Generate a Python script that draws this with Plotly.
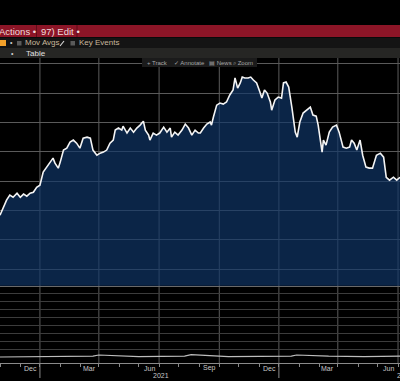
import plotly.graph_objects as go

# ---------------- data ----------------
dates = ["2020-10-01","2020-10-06","2020-10-11","2020-10-16","2020-10-21","2020-10-27","2020-11-01","2020-11-06","2020-11-11","2020-11-16",
         "2020-11-21","2020-11-26","2020-12-01","2020-12-06","2020-12-11","2020-12-16","2020-12-21","2020-12-24","2020-12-29","2021-01-01",
         "2021-01-06","2021-01-11","2021-01-16","2021-01-21","2021-01-26","2021-01-31","2021-02-05","2021-02-11","2021-02-16","2021-02-20",
         "2021-02-26","2021-03-03","2021-03-08","2021-03-13","2021-03-18","2021-03-23","2021-03-26","2021-03-31","2021-04-05","2021-04-07",
         "2021-04-13","2021-04-18","2021-04-23","2021-04-28","2021-05-03","2021-05-08","2021-05-11","2021-05-16","2021-05-18","2021-05-23",
         "2021-05-28","2021-06-02","2021-06-08","2021-06-13","2021-06-18","2021-06-20","2021-06-25","2021-06-30","2021-07-06","2021-07-11",
         "2021-07-16","2021-07-21","2021-07-26","2021-07-31","2021-08-03","2021-08-08","2021-08-13","2021-08-18","2021-08-20","2021-08-23",
         "2021-08-26","2021-08-28","2021-09-02","2021-09-07","2021-09-12","2021-09-17","2021-09-22","2021-09-25","2021-09-29","2021-10-03",
         "2021-10-06","2021-10-10","2021-10-15","2021-10-19","2021-10-23","2021-10-28","2021-11-02","2021-11-05","2021-11-09","2021-11-13",
         "2021-11-18","2021-11-20","2021-11-25","2021-11-30","2021-12-05","2021-12-08","2021-12-12","2021-12-16","2021-12-21","2021-12-26",
         "2021-12-29","2022-01-02","2022-01-07","2022-01-13","2022-01-18","2022-01-22","2022-01-27","2022-01-30","2022-02-05","2022-02-07",
         "2022-02-11","2022-02-16","2022-02-21","2022-02-27","2022-03-03","2022-03-09","2022-03-14","2022-03-19","2022-03-22","2022-03-26",
         "2022-03-30","2022-04-04","2022-04-08","2022-04-13","2022-04-18","2022-04-23","2022-04-29","2022-05-05","2022-05-10","2022-05-14",
         "2022-05-19","2022-05-25","2022-05-30","2022-06-04"]

prices = [136.8,141.6,147.1,150.5,149.1,151.8,149.1,151.2,149.8,151.8,
          152.5,155.9,157.3,166.2,169.6,173.0,175.7,172.3,168.9,173.0,
          181.2,182.5,186.6,188.0,185.9,182.5,189.3,190.0,189.3,181.2,
          177.7,179.1,179.8,181.2,185.9,188.0,194.8,196.2,194.8,197.5,
          192.8,196.2,193.4,196.2,198.2,200.9,194.8,191.4,188.0,192.8,
          191.4,192.8,196.8,193.4,196.2,190.0,193.4,191.4,194.8,198.9,
          196.2,191.4,194.8,192.8,192.8,196.2,198.9,200.3,198.2,203.7,
          209.8,211.8,213.2,212.5,213.9,218.7,222.1,230.3,223.4,226.9,
          230.9,230.3,230.3,230.9,228.9,226.9,220.7,216.6,222.1,220.0,
          213.9,208.4,215.3,217.3,216.6,226.9,227.5,224.1,209.8,193.4,
          190.0,200.3,206.4,208.4,210.5,205.0,204.3,198.2,179.8,188.0,
          184.6,193.4,196.8,198.2,193.4,183.2,182.5,183.2,188.0,185.9,
          181.2,188.0,177.7,169.6,168.9,168.9,177.7,179.1,176.4,162.7,
          160.7,162.7,160.7,162.7]

assert len(dates) == len(prices)

# lower study panel (nearly flat line)
lower_dates = ["2020-10-01","2020-12-15","2021-02-20","2021-03-01","2021-05-01","2021-07-10","2021-07-20",
               "2021-09-15","2021-12-20","2021-12-28","2022-02-15","2022-04-10","2022-06-04"]
lower_values = [0.0, 0.05, 0.1, 0.25, 0.05, 0.1, 0.3, 0.05, 0.1, 0.25, 0.1, 0.05, 0.1]

x_range = ["2020-10-01", "2022-06-04"]
grid_months = ["2020-12-01","2021-03-01","2021-06-01","2021-09-01","2021-12-01","2022-03-01","2022-06-01"]
month_labels = ["Dec","Mar","Jun","Sep","Dec","Mar","Jun"]
month_label_pos = ["2020-11-16","2021-02-14","2021-05-17","2021-08-17","2021-11-16","2022-02-14","2022-05-17"]
year_labels = ["2021", "2022"]
year_label_pos = ["2021-06-04", "2022-05-27"]
year_marks = ["2020-12-01", "2021-12-01"]

price_ticks = [100,120,140,160,180,200,220,240]
price_range = [88.8, 243.9]
lower_ticks = [1,2,3,4,5,6,7,8]
lower_range = [-0.75, 8.625]

W, H = 400, 381
def py(px):
    return 1 - px / H
def pxx(px):
    return px / W

FONT = "Liberation Sans, Arial, sans-serif"

fig = go.Figure()
fig.add_trace(go.Scatter(x=dates, y=prices, mode="lines",
                         line=dict(color="#f4f4f4", width=1.6),
                         fill="tozeroy", fillcolor="rgba(16,54,105,0.68)",
                         xaxis="x", yaxis="y", hoverinfo="skip"))
fig.add_trace(go.Scatter(x=lower_dates, y=lower_values, mode="lines",
                         line=dict(color="#bdbdbd", width=1.2),
                         xaxis="x2", yaxis="y2", hoverinfo="skip"))

shapes = []
for d in grid_months:
    shapes.append(dict(type="line", xref="x", yref="paper", x0=d, x1=d,
                       y0=py(363), y1=py(58), line=dict(color="#5c5c5c", width=1), layer="below"))
for d in year_marks:
    shapes.append(dict(type="line", xref="x", yref="paper", x0=d, x1=d,
                       y0=py(378), y1=py(363), line=dict(color="#8a8a8a", width=1)))

shapes += [
    dict(type="rect", xref="paper", yref="paper", x0=0, x1=1, y0=py(37), y1=py(25),
         fillcolor="#8c1527", line=dict(width=0)),
    dict(type="line", xref="paper", yref="paper", x0=pxx(36.5), x1=pxx(36.5), y0=py(37), y1=py(25),
         line=dict(color="#5e0d19", width=1)),
    dict(type="line", xref="paper", yref="paper", x0=pxx(77), x1=pxx(77), y0=py(37), y1=py(25),
         line=dict(color="#5e0d19", width=1)),
    dict(type="rect", xref="paper", yref="paper", x0=0, x1=1, y0=py(48), y1=py(37.5),
         fillcolor="#141414", line=dict(width=0)),
    dict(type="rect", xref="paper", yref="paper", x0=0, x1=1, y0=py(58), y1=py(48),
         fillcolor="#262624", line=dict(width=0)),
    dict(type="rect", xref="paper", yref="paper", x0=0, x1=pxx(6), y0=py(46), y1=py(40),
         fillcolor="#f3a12a", line=dict(width=0)),
    dict(type="rect", xref="paper", yref="paper", x0=pxx(17), x1=pxx(21.5), y0=py(45.5), y1=py(41),
         fillcolor="#5a5a5a", line=dict(width=0)),
    dict(type="rect", xref="paper", yref="paper", x0=pxx(70.5), x1=pxx(75), y0=py(45.5), y1=py(41),
         fillcolor="#5a5a5a", line=dict(width=0)),
    dict(type="line", xref="paper", yref="paper", x0=pxx(60), x1=pxx(64), y0=py(46), y1=py(41),
         line=dict(color="#d8d8d8", width=1.2)),
    dict(type="rect", xref="paper", yref="paper", x0=pxx(142), x1=pxx(257), y0=py(67), y1=py(58),
         fillcolor="#1b1b1b", line=dict(width=0)),
]

annotations = []
def txt(text, x, y, size, color, xanchor="left"):
    annotations.append(dict(text=text, x=pxx(x), y=py(y), xref="paper", yref="paper",
                            xanchor=xanchor, yanchor="middle", showarrow=False,
                            font=dict(size=size, color=color, family=FONT)))

txt("Actions •", -3, 31, 9.5, "#f0dcdc")
txt("97) Edit •", 39, 31, 9.5, "#f0dcdc")
txt("•", 7.5, 43, 7, "#cfcfcf")
txt("Mov Avgs", 23, 43, 8, "#c9b79b")
txt("Key Events", 77, 43, 8, "#c9b79b")
txt("•", 8.5, 53, 7, "#cfcfcf")
txt("Table", 23.5, 53, 8, "#e0e0e0")
txt("+ Track", 145, 62.5, 6, "#a8a8a8")
txt("✓ Annotate", 172, 62.5, 6, "#a8a8a8")
txt("▤ News", 207, 62.5, 6, "#a8a8a8")
txt("⌕ Zoom", 231, 62.5, 6, "#a8a8a8")

for lab, d in zip(month_labels, month_label_pos):
    annotations.append(dict(text=lab, x=d, y=py(368), xref="x", yref="paper",
                            xanchor="center", yanchor="middle", showarrow=False,
                            font=dict(size=7, color="#c8c8c8", family=FONT)))
annotations.append(dict(text=year_labels[0], x=year_label_pos[0], y=py(375), xref="x", yref="paper",
                        xanchor="center", yanchor="middle", showarrow=False,
                        font=dict(size=7, color="#c8c8c8", family=FONT)))
annotations.append(dict(text=year_labels[1], x=year_label_pos[1], y=py(375), xref="x", yref="paper",
                        xanchor="left", yanchor="middle", showarrow=False,
                        font=dict(size=7, color="#c8c8c8", family=FONT)))

fig.update_layout(
    width=W, height=H,
    margin=dict(l=0, r=0, t=0, b=0),
    paper_bgcolor="#000000", plot_bgcolor="#000000",
    showlegend=False,
    xaxis=dict(domain=[0, 1], anchor="y", type="date", range=x_range, showgrid=False,
               showticklabels=False, ticks="", showline=True, linecolor="#6a6a6a", linewidth=1,
               zeroline=False, fixedrange=True),
    yaxis=dict(domain=[0.25, py(58)], anchor="x", range=price_range, tickvals=price_ticks,
               showgrid=True, gridcolor="#5a5a5a", gridwidth=1, showticklabels=False,
               zeroline=False, showline=False, fixedrange=True),
    xaxis2=dict(domain=[0, 1], anchor="y2", type="date", range=x_range, showgrid=False,
                showticklabels=False, ticks="outside", ticklen=3, tickcolor="#8a8a8a",
                dtick="M1", tick0="2020-10-01", showline=True, linecolor="#8a8a8a", linewidth=1,
                zeroline=False, fixedrange=True),
    yaxis2=dict(domain=[py(363), py(288)], anchor="x2", range=lower_range, tickvals=lower_ticks,
                showgrid=True, gridcolor="#3c3c3c", gridwidth=1, showticklabels=False,
                zeroline=False, showline=False, fixedrange=True),
    shapes=shapes,
    annotations=annotations,
)

fig.write_html("out.html", config={"displayModeBar": False},
               post_script="document.body.style.margin='0';document.body.style.background='#000';document.body.style.overflow='hidden';")
